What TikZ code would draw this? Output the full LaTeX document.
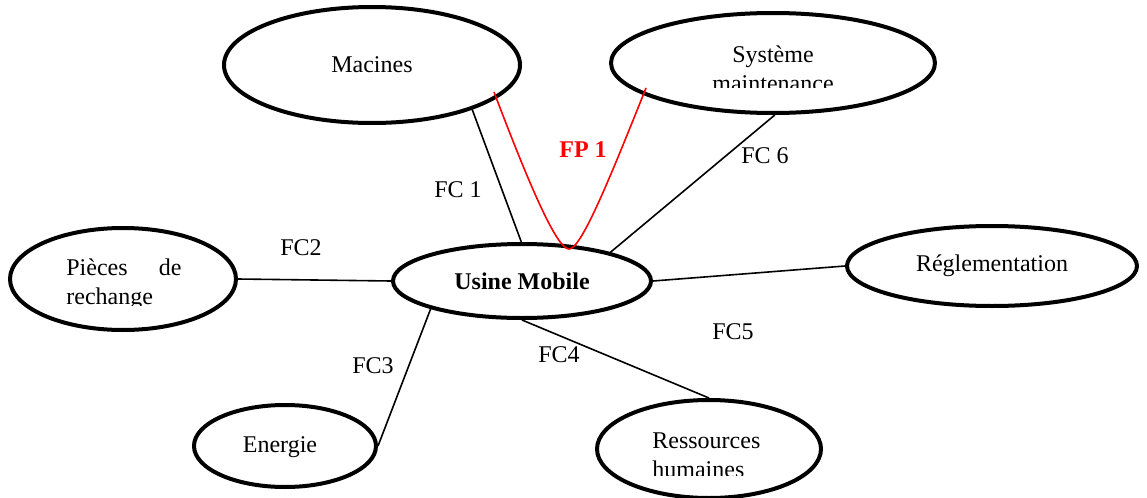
\documentclass[tikz,border=0pt]{standalone}
\usepackage{fontspec}
\setmainfont{Liberation Serif}
\usetikzlibrary{shapes.geometric}

\begin{document}
\begin{tikzpicture}[x=0.5pt,y=-0.5pt,
    bulle/.style={draw,ellipse,line width=2pt,inner sep=0pt},
    txt/.style={font=\fontsize{12}{14.4}\selectfont,inner sep=0pt},
    lien/.style={line width=0.8pt}]
                \useasboundingbox(0,0)rectangle(1147,498);
                % ellipses
                \node[bulle,txt,minimum width=148pt,minimum height=58pt](macines)at(372,65){Macines};
                \node[bulle,minimum width=162pt,minimum height=50pt](systeme)at(773,63){};
                \node[bulle,minimum width=113pt,minimum height=51pt](pieces)at(123,279){};
                \node[bulle,txt,minimum width=129pt,minimum height=37pt](usine)at(522,281){\bfseries Usine Mobile};
                \node[bulle,txt,minimum width=145pt,minimum height=40pt](regl)at(992,266){Réglementation};
                \node[bulle,minimum width=91pt,minimum height=41pt](energie)at(285,446){};
                \node[bulle,minimum width=112pt,minimum height=49pt](ressources)at(709,449){};
                \node[txt,anchor=base](energietxt)at(280,452){Energie};
                % textes coupes
                \begin{scope}
                \clip(611,0)rectangle(936,87);
                \node[txt,anchor=base](systemetxt)at(773,62){Système};
                \node[txt,anchor=base](maintenancetxt)at(773,91){maintenance};
                \end{scope}
                \begin{scope}
                \clip(10,228)rectangle(237,305);
                \node[txt,anchor=base west](piecestxt)at(66,275){Pièces};
                \node[txt,anchor=base east](detxt)at(182,275){de};
                \node[txt,anchor=base west](rechangetxt)at(66,304){rechange};
                \end{scope}
                \begin{scope}
                \clip(597,395)rectangle(821,475);
                \node[txt,anchor=base west](ressourcestxt)at(652,448){Ressources};
                \node[txt,anchor=base west](humainestxt)at(652,477){humaines};
                \end{scope}
                % liaisons
                \draw[lien](macines.-24)--(usine.91);
                \draw[lien](systeme.-88)--(usine.18);
                \draw[lien](pieces.east)--(usine.west);
                \draw[lien](usine.east)--(regl.west);
                \draw[lien](usine.-163)--(energie.east);
                \draw[lien](usine.south)--(ressources.north);
                \coordinate(fpa)at(494,92);
                \coordinate(fpv)at(569,249);
                \coordinate(fpb)at(646,88);
                \draw[lien,red](fpa)..controls(530,187)and(557,249)..(fpv)
                    ..controls(581,249)and(608,183)..(fpb);
                % fonctions
                \node[txt](fc1)at(458,190){FC 1};
                \node[txt,red](fp1)at(583,150){\bfseries FP 1};
                \node[txt](fc6)at(765,156){FC 6};
                \node[txt](fc2)at(301,248){FC2};
                \node[txt](fc5)at(733,332){FC5};
                \node[txt](fc3)at(373,366){FC3};
                \node[txt](fc4)at(559,355){FC4};
            \end{tikzpicture}
\end{document}
